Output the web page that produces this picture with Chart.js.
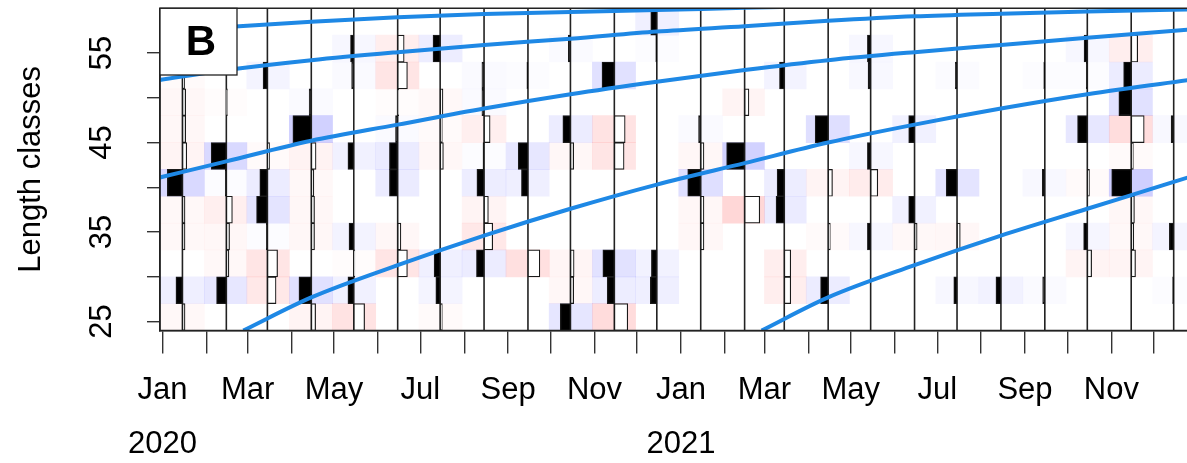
<!DOCTYPE html>
<html>
<head>
<meta charset="utf-8">
<script src="https://cdn.jsdelivr.net/npm/chart.js@4.4.1/dist/chart.umd.min.js"></script>
<style>
  html, body { margin: 0; padding: 0; background: #fff; overflow: hidden; }
  #wrap { position: relative; width: 1187px; height: 463px; }
</style>
</head>
<body>
<div id="wrap"><canvas id="lfq" width="1187" height="463"></canvas></div>
<script>
// ---- sampling dates (one length-frequency sample per month) ----
const sampleDates = [
  '2020-01-15','2020-02-15','2020-03-15','2020-04-15','2020-05-15','2020-06-15',
  '2020-07-15','2020-08-15','2020-09-15','2020-10-15','2020-11-15','2020-12-15',
  '2021-01-15','2021-02-15','2021-03-15','2021-04-15','2021-05-15','2021-06-15',
  '2021-07-15','2021-08-15','2021-09-15','2021-10-15','2021-11-15','2021-12-15'
];

// ---- length classes (lower bound, cm) ----
const lengthBins = [24, 27, 30, 33, 36, 39, 42, 45, 48, 51, 54, 57];
const binWidth = 3;

// ---- restructured counts, one row per sample, columns follow lengthBins ----
const rcounts = [
  [-0.12, 0.30, 0.00, -0.12, -0.12, 0.70, -0.20, -0.15, -0.15, -0.10, 0.00, 0.00],
  [ 0.00, 0.45, -0.12, -0.15, -0.28, 0.05, 0.70, 0.00, -0.05, 0.00, 0.00, 0.00],
  [ 0.00, -0.40, -0.47, 0.05, 0.50, 0.35, -0.10, 0.00, 0.00, 0.20, 0.00, 0.00],
  [-0.20, 0.57, 0.00, -0.15, -0.15, -0.12, -0.22, 0.85, 0.10, 0.00, 0.00, 0.00],
  [-0.50, 0.27, -0.05, 0.22, 0.00, 0.00, 0.27, 0.00, 0.00, 0.10, 0.15, 0.00],
  [ 0.00, 0.00, -0.45, -0.15, 0.00, 0.38, 0.38, 0.10, -0.05, -0.45, -0.30, 0.00],
  [-0.10, 0.20, 0.28, 0.00, 0.00, 0.00, -0.15, -0.10, -0.13, 0.00, 0.33, 0.00],
  [ 0.00, 0.00, 0.35, -0.40, -0.20, 0.33, 0.05, -0.28, 0.10, 0.10, 0.00, 0.00],
  [ 0.00, 0.00, -0.55, 0.00, 0.00, 0.30, 0.45, 0.00, 0.00, 0.05, 0.00, 0.00],
  [ 0.47, -0.15, -0.17, 0.00, 0.00, 0.00, -0.15, 0.35, 0.00, 0.00, 0.10, 0.00],
  [-0.62, 0.33, 0.53, 0.00, 0.00, 0.00, -0.45, -0.50, 0.00, 0.57, 0.00, 0.00],
  [ 0.00, 0.30, 0.25, 0.00, 0.00, 0.00, 0.00, 0.00, 0.00, 0.00, 0.05, 0.28],
  [ 0.00, 0.00, 0.00, -0.15, -0.15, 0.60, -0.15, 0.10, 0.00, 0.00, 0.00, 0.00],
  [ 0.00, 0.00, 0.00, 0.00, -0.70, 0.00, 0.83, 0.00, -0.20, 0.00, 0.00, 0.00],
  [ 0.00, -0.30, -0.30, 0.00, 0.38, 0.33, 0.00, 0.00, 0.00, 0.22, 0.00, 0.00],
  [ 0.00, 0.35, 0.00, -0.10, 0.00, -0.20, 0.00, 0.60, 0.00, 0.00, 0.00, 0.00],
  [ 0.00, 0.00, 0.00, 0.15, 0.00, -0.33, 0.15, 0.00, 0.00, 0.12, 0.15, 0.00],
  [ 0.00, 0.00, 0.00, -0.12, 0.27, 0.00, 0.00, 0.27, 0.00, 0.00, 0.00, 0.00],
  [ 0.00, 0.15, 0.00, -0.15, 0.00, 0.50, 0.00, 0.00, 0.00, 0.08, 0.00, 0.00],
  [ 0.00, 0.23, 0.00, 0.00, 0.00, 0.00, 0.00, 0.00, 0.00, 0.00, 0.00, 0.00],
  [ 0.00, 0.10, 0.00, 0.00, 0.00, 0.12, 0.00, 0.00, 0.00, 0.05, 0.00, 0.00],
  [ 0.00, 0.00, -0.20, 0.17, 0.00, -0.10, 0.00, 0.45, 0.00, 0.05, 0.15, 0.00],
  [ 0.00, 0.00, -0.20, -0.12, -0.15, 0.90, -0.10, -0.60, 0.57, 0.35, -0.30, 0.00],
  [ 0.00, 0.05, 0.00, 0.20, 0.00, 0.00, 0.00, 0.12, 0.00, 0.00, 0.00, 0.00]
];

// ---- growth curves, one per cohort: [date, length] ----
const cohort2017 = [
  ['2019-12-30', 57.4], ['2020-02-15', 57.9], ['2020-04-15', 58.5], ['2020-06-15', 59.0],
  ['2020-08-15', 59.35], ['2020-10-15', 59.6], ['2020-12-15', 59.8], ['2021-02-15', 60.05],
  ['2021-04-15', 60.25], ['2021-06-15', 60.4]
];
const cohort2018 = [
  ['2019-12-30', 52.0], ['2020-02-15', 53.1], ['2020-04-15', 54.2], ['2020-06-15', 55.1],
  ['2020-08-15', 55.9], ['2020-10-15', 56.6], ['2020-12-15', 57.4], ['2021-02-15', 58.0],
  ['2021-04-15', 58.6], ['2021-06-15', 59.1], ['2021-08-15', 59.4], ['2021-10-15', 59.65],
  ['2021-12-31', 59.9]
];
const cohort2019 = [
  ['2019-12-30', 41.1], ['2020-02-15', 42.9], ['2020-04-15', 45.2], ['2020-06-15', 47.0],
  ['2020-08-15', 48.8], ['2020-10-15', 50.4], ['2020-12-15', 51.8], ['2021-02-15', 53.1],
  ['2021-04-15', 54.2], ['2021-06-15', 55.1], ['2021-08-15', 55.9], ['2021-10-15', 56.7],
  ['2021-12-31', 57.7]
];
const cohort2020 = [
  ['2020-02-27', 24.0], ['2020-04-15', 27.7], ['2020-06-15', 31.3], ['2020-08-15', 34.6],
  ['2020-10-15', 37.6], ['2020-12-15', 40.3], ['2021-02-15', 42.7], ['2021-04-15', 45.0],
  ['2021-06-15', 47.0], ['2021-08-15', 48.8], ['2021-10-15', 50.4], ['2021-12-31', 52.1]
];
const cohort2021 = [
  ['2021-02-27', 24.0], ['2021-04-15', 27.7], ['2021-06-15', 31.3], ['2021-08-15', 34.6],
  ['2021-10-15', 37.6], ['2021-12-15', 40.6], ['2021-12-31', 41.4]
];

// ---- axis labels ----
const monthNames = ['Jan', 'Feb', 'Mar', 'Apr', 'May', 'Jun', 'Jul', 'Aug', 'Sep', 'Oct', 'Nov', 'Dec'];
const years = [2020, 2021];
const yTickValues = [25, 30, 35, 40, 45, 50, 55];
const yTickLabels = ['25', '', '35', '', '45', '', '55'];
const panelTag = 'B';
const yTitle = 'Length classes';

// ---- helpers ----
const FONT = '"Liberation Sans", Arial, Helvetica, sans-serif';
const T0 = Date.UTC(2020, 0, 1);
const toDay = s => { const p = s.split('-').map(Number); return (Date.UTC(p[0], p[1] - 1, p[2]) - T0) / 86400000; };
const sampleDays = sampleDates.map(toDay);
const BAR_DAYS = 15.3;         // horizontal extent (days) of a bar with |rcount| = 1
const CURVE_COLOUR = '#1e88e5';

// month ticks and their labels (every month ticked, every second month labelled)
const monthTicks = [];
const monthLabels = [];
years.forEach(y => monthNames.forEach((name, m) => {
  monthTicks.push((Date.UTC(y, m, 1) - T0) / 86400000);
  monthLabels.push(m % 2 === 0 ? (m === 0 ? [name, String(y)] : name) : '');
}));

// each sample's colour cell spans half-way to its neighbours
const cellEdges = sampleDays.map((d, i) => {
  const prev = i > 0 ? sampleDays[i - 1] : d - (sampleDays[1] - sampleDays[0]);
  const next = i < sampleDays.length - 1 ? sampleDays[i + 1] : d + (d - sampleDays[i - 1]);
  return [(prev + d) / 2, (d + next) / 2];
});
const cellColour = v => v > 0
  ? `rgba(40,40,255,${(0.25 * v).toFixed(3)})`
  : `rgba(255,30,30,${(0.25 * -v).toFixed(3)})`;

const cellData = [], cellColours = [];
const histData = [], histColours = [];
rcounts.forEach((row, i) => row.forEach((v, k) => {
  if (v === 0) return;
  const mid = lengthBins[k] + binWidth / 2;
  const d = sampleDays[i];
  cellData.push({ x: cellEdges[i], y: mid });
  cellColours.push(cellColour(v));
  histData.push({ x: v > 0 ? [d - v * BAR_DAYS, d] : [d, d - v * BAR_DAYS], y: mid });
  histColours.push(v > 0 ? '#000000' : '#ffffff');
}));

const yMin = lengthBins[0];
const yMax = lengthBins[lengthBins.length - 1] + binWidth;
const baselineData = [];
sampleDays.forEach(d => { baselineData.push({ x: d, y: yMin }, { x: d, y: yMax }, { x: d, y: null }); });

const curve = (pts, label) => ({
  type: 'line', label, indexAxis: 'x', order: 1, clip: 0,
  data: pts.map(([d, l]) => ({ x: toDay(d), y: l })),
  borderColor: CURVE_COLOUR, borderWidth: 4, pointRadius: 0,
  cubicInterpolationMode: 'monotone', fill: false
});

// ---- frame and panel tag drawn over the data ----
const framePlugin = {
  id: 'frame',
  afterDatasetsDraw(chart) {
    const { ctx, chartArea: { left, top, right, bottom } } = chart;
    ctx.save();
    ctx.strokeStyle = '#222';
    ctx.lineWidth = 1.5;
    ctx.beginPath();
    ctx.moveTo(right + 2, top); ctx.lineTo(left, top); ctx.lineTo(left, bottom); ctx.lineTo(right + 2, bottom);
    ctx.stroke();
    const w = 77, h = 66.7;
    ctx.fillStyle = '#fff';
    ctx.fillRect(left, top, w, h);
    ctx.lineWidth = 1.3;
    ctx.strokeRect(left, top, w, h);
    ctx.fillStyle = '#000';
    ctx.font = `bold 42px ${FONT}`;
    ctx.textAlign = 'center';
    ctx.textBaseline = 'middle';
    ctx.fillText(panelTag, left + 41, top + 35);
    ctx.restore();
  }
};

new Chart(document.getElementById('lfq'), {
  type: 'bar',
  data: {
    datasets: [
      { label: 'cells', indexAxis: 'y', order: 5, clip: 0, data: cellData,
        backgroundColor: cellColours, borderWidth: 0, grouped: false,
        barPercentage: 1, categoryPercentage: 1 },
      { type: 'line', label: 'samples', indexAxis: 'x', order: 4, clip: 0, data: baselineData,
        borderColor: '#222', borderWidth: 1.6, pointRadius: 0, fill: false, spanGaps: false },
      { label: 'rcounts', indexAxis: 'y', order: 3, clip: 0, data: histData,
        backgroundColor: histColours, borderColor: '#1a1a1a', borderWidth: 1.2,
        borderSkipped: false, grouped: false, barPercentage: 1, categoryPercentage: 1 },
      curve(cohort2017, '2017'),
      curve(cohort2018, '2018'),
      curve(cohort2019, '2019'),
      curve(cohort2020, '2020'),
      curve(cohort2021, '2021')
    ]
  },
  options: {
    responsive: false,
    animation: false,
    devicePixelRatio: 1,
    indexAxis: 'y',
    layout: { padding: { top: 8.3, right: 0, bottom: 0, left: 0 } },
    plugins: { legend: { display: false }, tooltip: { enabled: false } },
    scales: {
      x: {
        type: 'linear', bounds: 'data', offset: false, min: -1.84, max: 723.4,
        afterBuildTicks: s => { s.ticks = monthTicks.map(v => ({ value: v })); },
        afterFit: s => { s.height = 132.5; s.paddingLeft = 0; s.paddingRight = 0; },
        ticks: {
          autoSkip: false, minRotation: 0, maxRotation: 0, padding: 9.5, color: '#000',
          font: { family: FONT, size: 31, lineHeight: '54px' },
          callback: (v, i) => monthLabels[i]
        },
        grid: { offset: false, drawOnChartArea: false, drawTicks: true, tickLength: 23, color: '#333', lineWidth: 1.4 },
        border: { display: true, color: '#222', width: 1.5 }
      },
      y: {
        type: 'linear', bounds: 'data', offset: false, min: yMin, max: yMax,
        afterBuildTicks: s => { s.ticks = yTickValues.map(v => ({ value: v })); },
        afterFit: s => { s.width = 160; s.paddingTop = 0; s.paddingBottom = 0; },
        ticks: {
          autoSkip: false, minRotation: 90, maxRotation: 90, crossAlign: 'center', padding: 27,
          color: '#000', font: { family: FONT, size: 31 },
          callback: (v, i) => yTickLabels[i]
        },
        grid: { offset: false, drawOnChartArea: false, drawTicks: true, tickLength: 13, color: '#333', lineWidth: 1.4 },
        border: { display: true, color: '#222', width: 1.5 },
        title: { display: true, text: yTitle, color: '#000', font: { family: FONT, size: 31 },
                 padding: { top: 13, bottom: 0 } }
      }
    }
  },
  plugins: [framePlugin]
});
</script>
</body>
</html>
